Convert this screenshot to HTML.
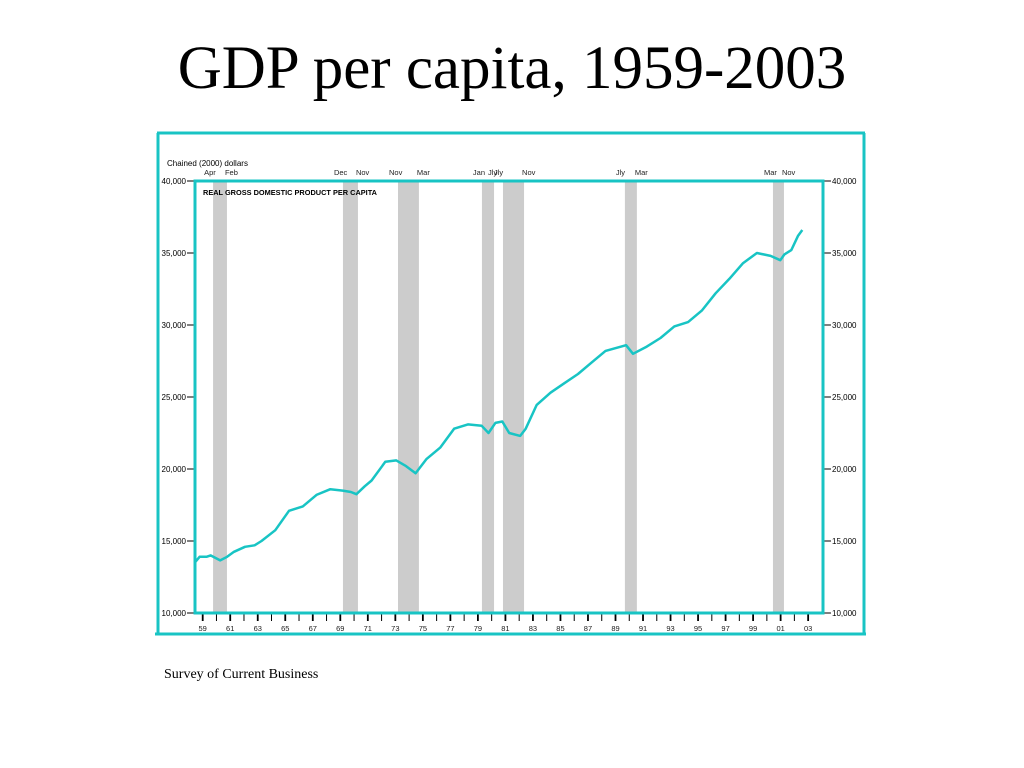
<!DOCTYPE html>
<html><head><meta charset="utf-8"><style>
body{margin:0;background:#fff;width:1024px;height:768px;overflow:hidden}
svg{display:block}
</style></head><body>
<svg width="1024" height="768" viewBox="0 0 1024 768">
<text x="512" y="88" text-anchor="middle" font-family="Liberation Serif, serif" font-size="61">GDP per capita, 1959-2003</text>
<g stroke="#18c4c4" stroke-width="3" fill="none">
<line x1="157" y1="133" x2="865" y2="133"/>
<line x1="158" y1="133" x2="158" y2="634"/>
<line x1="864" y1="133" x2="864" y2="634"/>
<line x1="155" y1="634" x2="866" y2="634"/>
</g>
<g id="bands"></g>
<g id="axes"></g>
<rect x="195" y="181" width="628" height="432" fill="none" stroke="#18c4c4" stroke-width="3"/>
<path id="line" fill="none" stroke="#18c4c4" stroke-width="2.5" stroke-linejoin="round"/>
<text x="167" y="166" font-family="Liberation Sans, sans-serif" font-size="8">Chained (2000) dollars</text>
<text x="203" y="195" font-family="Liberation Sans, sans-serif" font-size="7.5" font-weight="bold" textLength="174" lengthAdjust="spacingAndGlyphs">REAL GROSS DOMESTIC PRODUCT PER CAPITA</text>
<text x="164" y="678" font-family="Liberation Serif, serif" font-size="14">Survey of Current Business</text>
</svg>
<script>
const years=[1959.15,1959.5,1960.0,1960.3,1961.0,1961.5,1962.0,1962.8,1963.5,1964.0,1965.0,1966.0,1967.0,1968.0,1969.0,1969.9,1970.5,1970.9,1971.5,1972.0,1973.0,1973.8,1974.5,1975.2,1976.0,1977.0,1978.0,1979.0,1980.0,1980.5,1981.0,1981.5,1982.0,1982.8,1983.2,1984.0,1985.0,1986.0,1987.0,1988.0,1989.0,1990.5,1991.0,1992.0,1993.0,1994.0,1995.0,1996.0,1997.0,1998.0,1999.0,2000.0,2001.0,2001.7,2002.0,2002.5,2003.0,2003.3];
const values=[13500,13900,13900,14000,13650,13900,14250,14600,14700,15000,15750,17100,17400,18200,18600,18500,18400,18250,18800,19200,20500,20600,20200,19700,20700,21500,22800,23100,23000,22500,23200,23300,22500,22300,22800,24450,25300,25950,26600,27400,28200,28600,28000,28500,29100,29900,30200,31000,32200,33200,34300,35000,34800,34500,34900,35200,36200,36600];
const recessions=[[1960.48,1961.49],[1969.92,1971.01],[1973.92,1975.44],[1980.02,1980.9],[1981.55,1983.08],[1990.41,1991.28],[2001.17,2001.97]];
const recessionLabels=[["Apr","Feb"],["Dec","Nov"],["Nov","Mar"],["Jan","Jly"],["Jly","Nov"],["Jly","Mar"],["Mar","Nov"]];
const yTicks=[10000,15000,20000,25000,30000,35000,40000];
const yTickLabels=["10,000","15,000","20,000","25,000","30,000","35,000","40,000"];
const xYears=[];for(let y=1959;y<=2003;y++)xYears.push(y);

const X=t=>192.7+(t-1959)*13.76;
const Y=v=>613-(v-10000)/30000*432;
const NS="http://www.w3.org/2000/svg";
function mk(tag,attrs,parent,txt){const e=document.createElementNS(NS,tag);for(const k in attrs)e.setAttribute(k,attrs[k]);if(txt!==undefined)e.textContent=txt;parent.appendChild(e);return e;}
const bands=document.getElementById('bands'),axes=document.getElementById('axes');
recessions.forEach((r,i)=>{
 const b=mk('rect',{x:X(r[0]),y:181,width:X(r[1])-X(r[0]),height:432,fill:'#cccccc'},bands);
 
 
 const l1=mk('text',{x:X(r[0])-9,y:175,'font-family':'Liberation Sans, sans-serif','font-size':'7.5',fill:'#222'},bands,recessionLabels[i][0]);
 
 
 const l2=mk('text',{x:X(r[1])-2+(i==3?-4:0),y:175,'font-family':'Liberation Sans, sans-serif','font-size':'7.5',fill:'#222'},bands,recessionLabels[i][1]);
 
 
});
yTicks.forEach((v,i)=>{
 const y=Y(v);
 const tl=mk('line',{x1:187,x2:195,y1:y,y2:y,stroke:'#000','stroke-width':1},axes);
 
 
 const tr=mk('line',{x1:823,x2:831,y1:y,y2:y,stroke:'#000','stroke-width':1},axes);
 
 
 const a=mk('text',{x:186,y:y+3,'text-anchor':'end','font-family':'Liberation Sans, sans-serif','font-size':'8'},axes,yTickLabels[i]);
 
 
 const b=mk('text',{x:832,y:y+3,'font-family':'Liberation Sans, sans-serif','font-size':'8'},axes,yTickLabels[i]);
 
 
});
xYears.forEach(yr=>{
 const x=X(yr)+10;
 const t=mk('line',{x1:x,x2:x,y1:614,y2:621,stroke:'#000','stroke-width':yr%2?1.8:1},axes);
 
 
 if(yr%2){
  const l=mk('text',{x:x,y:631,'text-anchor':'middle','font-family':'Liberation Sans, sans-serif','font-size':'7.5',fill:'#222'},axes,String(yr).slice(2));
  
  
 }
});
document.getElementById('line').setAttribute('d',years.map((t,i)=>(i?'L':'M')+X(t).toFixed(1)+','+Y(values[i]).toFixed(1)).join(''));
</script>
</body></html>
